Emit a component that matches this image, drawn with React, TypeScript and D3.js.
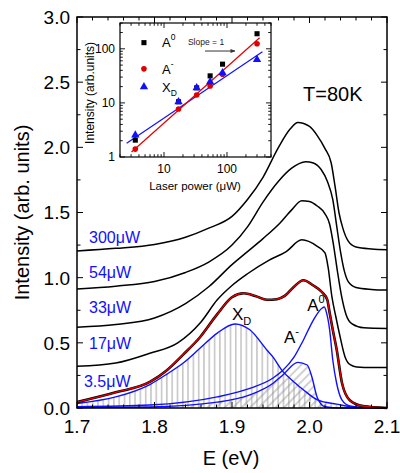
import React from "react";
import * as d3 from "d3";

// ---------- main spectra (E in eV, intensity in arb. units, offsets included) ----------
const E300 = [1.70,1.75,1.80,1.84,1.87,1.90,1.92,1.94,1.96,1.975,1.985,2.00,2.01,2.02,2.028,2.033,2.038,2.043,2.05,2.06,2.08,2.10];
const I300 = [1.205,1.225,1.255,1.31,1.38,1.47,1.6,1.77,2.0,2.14,2.19,2.16,2.09,1.99,1.88,1.7,1.5,1.38,1.28,1.235,1.22,1.215];
const E54 = [1.70,1.75,1.80,1.84,1.87,1.90,1.92,1.94,1.96,1.977,1.995,2.005,2.015,2.023,2.03,2.035,2.04,2.045,2.05,2.06,2.08,2.10];
const I54 = [0.913,0.935,0.97,1.04,1.12,1.25,1.39,1.58,1.74,1.84,1.89,1.88,1.83,1.74,1.6,1.4,1.2,1.05,0.97,0.925,0.91,0.905];
const E33 = [1.70,1.75,1.80,1.84,1.87,1.90,1.92,1.94,1.962,1.977,1.99,2.00,2.01,2.02,2.026,2.031,2.036,2.041,2.047,2.055,2.07,2.10];
const I33 = [0.62,0.64,0.69,0.8,0.93,1.1,1.2,1.3,1.42,1.52,1.59,1.585,1.55,1.49,1.41,1.25,1.05,0.87,0.72,0.645,0.615,0.61];
const E17 = [1.70,1.75,1.794,1.83,1.86,1.881,1.90,1.92,1.948,1.97,1.99,2.01,2.02,2.024,2.029,2.034,2.039,2.046,2.053,2.061,2.08,2.10];
const I17 = [0.32,0.345,0.42,0.5,0.66,0.83,0.94,1.03,1.135,1.2,1.29,1.24,1.19,1.08,0.85,0.7,0.56,0.39,0.33,0.315,0.31,0.31];
const E3 = [1.70,1.75,1.794,1.816,1.837,1.859,1.881,1.90,1.915,1.93,1.945,1.958,1.968,1.98,1.992,2.005,2.016,2.023,2.026,2.03,2.035,2.042,2.052,2.069,2.10];
const I3 = [0.045,0.12,0.2,0.29,0.41,0.545,0.72,0.85,0.88,0.86,0.83,0.835,0.86,0.93,0.98,0.94,0.89,0.83,0.73,0.6,0.45,0.19,0.06,0.015,0.0];

// ---------- fitted components of the 3.5 uW spectrum ----------
const EXD = [1.70,1.75,1.794,1.816,1.837,1.859,1.881,1.904,1.923,1.945,1.953,1.965,1.98,1.992,2.011,2.035,2.056,2.08,2.10];
const IXD = [0.035,0.085,0.18,0.26,0.345,0.46,0.575,0.645,0.6,0.445,0.39,0.285,0.2,0.14,0.06,0.03,0.008,0.002,0];
const EA0 = [1.70,1.794,1.881,1.923,1.953,1.965,1.98,1.992,2.005,2.016,2.019,2.022,2.026,2.03,2.035,2.042,2.052,2.07,2.10];
const IA0 = [0.01,0.023,0.085,0.15,0.23,0.285,0.39,0.52,0.675,0.765,0.775,0.73,0.6,0.37,0.19,0.06,0.015,0.003,0];
const EAm = [1.70,1.794,1.881,1.923,1.953,1.965,1.985,1.997,2.003,2.01,2.02,2.04,2.10];
const IAm = [0.003,0.008,0.045,0.1,0.19,0.25,0.35,0.33,0.24,0.08,0.01,0,0];

// ---------- inset: integrated intensities vs laser power ----------
const power = [3.5, 17, 33, 54, 85, 300];
const intA0 = [2.05, 10.5, 19, 31.6, 52, 190];
const intAm = [1.4, 7.7, 14, 20.5, 34, 124];
const intXD = [2.55, 10.5, 19, 24.5, 36, 63];
const fitXDx = [2.55, 366];
const fitXDy = [1.8, 88];
const fitAmx = [3.05, 330];
const fitAmy = [1.24, 160];

// ---------- labels ----------
const powerLabels = ["300\u03bcW", "54\u03bcW", "33\u03bcW", "17\u03bcW", "3.5\u03bcW"];
const powerLabelY = [1.266, 0.997, 0.729, 0.453, 0.161];
const xTicks = [1.7, 1.8, 1.9, 2.0, 2.1];
const yTicks = [0.0, 0.5, 1.0, 1.5, 2.0, 2.5, 3.0];
const legendY = [130, 42.6, 19.8];

const FONT = "Arial, 'Liberation Sans', Helvetica, sans-serif";

type P = [number, number];

export default function App() {
  const x = d3.scaleLinear().domain([1.7, 2.1]).range([77, 387]);
  const y = d3.scaleLinear().domain([0, 3]).range([408, 17]);
  const line = d3.line<P>().x(d => x(d[0])).y(d => y(d[1])).curve(d3.curveMonotoneX);
  const area = d3.area<P>().x(d => x(d[0])).y0(y(0)).y1(d => y(d[1])).curve(d3.curveMonotoneX);

  const ix = d3.scaleLog().domain([2, 500]).range([120, 271]);
  const iy = d3.scaleLog().domain([1, 300]).range([157, 23]);

  const spectra: P[][] = [
    d3.zip(E300, I300) as P[],
    d3.zip(E54, I54) as P[],
    d3.zip(E33, I33) as P[],
    d3.zip(E17, I17) as P[],
  ];
  const s3 = d3.zip(E3, I3) as P[];
  const xd = d3.zip(EXD, IXD) as P[];
  const a0 = d3.zip(EA0, IA0) as P[];
  const am = d3.zip(EAm, IAm) as P[];

  const xMinor = d3.range(1.7, 2.1001, 0.02);
  const yMinor = d3.range(0, 3.0001, 0.25);

  const ixMinor = [2,3,4,5,6,7,8,9,20,30,40,50,60,70,80,90,200,300,400,500];
  const ixMajor = [10, 100];
  const iyMinor = [2,3,4,5,6,7,8,9,20,30,40,50,60,70,80,90,200,300];
  const iyMajor = [1, 10, 100];

  const tri = d3.symbol().type(d3.symbolTriangle).size(30)();
  const sq = d3.symbol().type(d3.symbolSquare).size(26)();

  const lgX = ix(4.8);
  const lgT = ix(9.3);

  return (
    <svg width={400} height={473} style={{ position: "absolute", left: 0, top: 0, background: "#fff" }} fontFamily={FONT}>
      <defs>
        <pattern id="vhatch" patternUnits="userSpaceOnUse" width={5.3} height={10}>
          <line x1={2.6} y1={0} x2={2.6} y2={10} stroke="#9a9a9a" strokeWidth={0.9} />
        </pattern>
        <pattern id="dhatch" patternUnits="userSpaceOnUse" width={6} height={6} patternTransform="rotate(45)">
          <line x1={3} y1={0} x2={3} y2={6} stroke="#8a8a8a" strokeWidth={0.8} />
        </pattern>
        <marker id="arr" viewBox="0 0 10 10" refX={9} refY={5} markerWidth={5} markerHeight={5} orient="auto">
          <path d="M0,1 L10,5 L0,9 z" fill="#333" />
        </marker>
      </defs>
      <rect x={0} y={0} width={400} height={473} fill="#fff" />

      {/* hatched component areas */}
      <path d={area(xd) || ""} fill="url(#vhatch)" />
      <path d={area(am) || ""} fill="url(#dhatch)" />

      {/* component curves */}
      {[xd, a0, am].map((c, i) => (
        <path key={i} d={line(c) || ""} fill="none" stroke="#1010ff" strokeWidth={1.4} />
      ))}

      {/* spectra */}
      {spectra.map((s, i) => (
        <path key={i} d={line(s) || ""} fill="none" stroke="#000" strokeWidth={1.5} />
      ))}
      <path d={line(s3) || ""} fill="none" stroke="#000" strokeWidth={2.6} />
      <path d={line(s3) || ""} fill="none" stroke="#e00000" strokeWidth={1.4} />

      {/* frame */}
      <rect x={77} y={17} width={310} height={391} fill="none" stroke="#000" strokeWidth={1.5} />

      {/* ticks */}
      {xMinor.map((v, i) => {
        const major = Math.abs(Math.round(v * 10) - v * 10) < 1e-6;
        const len = major ? 6 : 3.5;
        return (
          <g key={"xt" + i} stroke="#000" strokeWidth={1}>
            <line x1={x(v)} x2={x(v)} y1={408} y2={408 - len} />
            <line x1={x(v)} x2={x(v)} y1={17} y2={17 + len} />
          </g>
        );
      })}
      {yMinor.map((v, i) => {
        const major = i % 2 === 0;
        const len = major ? 6 : 3.5;
        return (
          <g key={"yt" + i} stroke="#000" strokeWidth={1}>
            <line x1={77} x2={77 + len} y1={y(v)} y2={y(v)} />
            <line x1={387} x2={387 - len} y1={y(v)} y2={y(v)} />
          </g>
        );
      })}
      {xTicks.map((v, i) => (
        <text key={"xl" + i} x={x(v)} y={433} textAnchor="middle" fontSize={19}>{v.toFixed(1)}</text>
      ))}
      {yTicks.map((v, i) => (
        <text key={"yl" + i} x={70} y={y(v)} dy="0.36em" textAnchor="end" fontSize={19}>{v.toFixed(1)}</text>
      ))}
      <text x={231} y={465} textAnchor="middle" fontSize={20}>E (eV)</text>
      <text transform={`translate(29,${y(1.5)}) rotate(-90)`} textAnchor="middle" fontSize={20}>Intensity (arb. units)</text>

      {/* annotations */}
      <text x={x(1.9916)} y={y(2.356)} fontSize={20}>T=80K</text>
      {powerLabels.map((t, i) => (
        <text key={"pl" + i} x={x(i === 4 ? 1.709 : 1.7155)} y={y(powerLabelY[i])} fontSize={16} fill="#1010ff">{t}</text>
      ))}
      <text x={x(1.9)} y={y(0.675)} fontSize={17}>X<tspan fontSize={11} dy={5}>D</tspan></text>
      <text x={x(1.967)} y={y(0.5)} fontSize={17}>A<tspan fontSize={11} dy={-8}>-</tspan></text>
      <text x={x(1.997)} y={y(0.745)} fontSize={17}>A<tspan fontSize={11} dy={-8}>0</tspan></text>

      {/* ---------- inset ---------- */}
      <rect x={120} y={23} width={151} height={134} fill="#fff" stroke="#000" strokeWidth={1.2} />
      {ixMinor.concat(ixMajor).map((v, i) => {
        const len = ixMajor.includes(v) ? 5 : 2.8;
        return (
          <g key={"ixt" + i} stroke="#000" strokeWidth={0.9}>
            <line x1={ix(v)} x2={ix(v)} y1={157} y2={157 - len} />
            <line x1={ix(v)} x2={ix(v)} y1={23} y2={23 + len} />
          </g>
        );
      })}
      {iyMinor.concat(iyMajor).map((v, i) => {
        const len = iyMajor.includes(v) ? 5 : 2.8;
        return (
          <g key={"iyt" + i} stroke="#000" strokeWidth={0.9}>
            <line x1={120} x2={120 + len} y1={iy(v)} y2={iy(v)} />
            <line x1={271} x2={271 - len} y1={iy(v)} y2={iy(v)} />
          </g>
        );
      })}
      {ixMajor.map((v, i) => (
        <text key={"ixl" + i} x={ix(v)} y={173} textAnchor="middle" fontSize={12}>{v}</text>
      ))}
      {iyMajor.map((v, i) => (
        <text key={"iyl" + i} x={115} y={iy(v)} dy="0.36em" textAnchor="end" fontSize={12}>{v}</text>
      ))}
      <text x={195} y={190} textAnchor="middle" fontSize={11.5}>Laser power (<tspan>{"\u03bc"}</tspan>W)</text>
      <text transform={`translate(94,${iy(10) - 10}) rotate(-90)`} textAnchor="middle" fontSize={12}>Intensity (arb.units)</text>

      <line x1={ix(fitXDx[0])} y1={iy(fitXDy[0])} x2={ix(fitXDx[1])} y2={iy(fitXDy[1])} stroke="#1010ff" strokeWidth={1.2} />
      <line x1={ix(fitAmx[0])} y1={iy(fitAmy[0])} x2={ix(fitAmx[1])} y2={iy(fitAmy[1])} stroke="#e00000" strokeWidth={1.2} />

      {power.map((p, i) => (
        <path key={"sa" + i} d={sq || ""} transform={`translate(${ix(p)},${iy(intA0[i])})`} fill="#000" />
      ))}
      {power.map((p, i) => (
        <circle key={"ca" + i} cx={ix(p)} cy={iy(intAm[i])} r={2.8} fill="#e00000" />
      ))}
      {power.map((p, i) => (
        <path key={"ta" + i} d={tri || ""} transform={`translate(${ix(p)},${iy(intXD[i])})`} fill="#1010ff" />
      ))}

      {/* inset legend */}
      <path d={sq || ""} transform={`translate(${lgX},${iy(legendY[0])})`} fill="#000" />
      <text x={lgT} y={iy(legendY[0])} dy="0.36em" fontSize={13}>A<tspan fontSize={8.5} dy={-7}>0</tspan></text>
      <circle cx={lgX} cy={iy(legendY[1])} r={2.8} fill="#e00000" />
      <text x={lgT} y={iy(legendY[1])} dy="0.36em" fontSize={13}>A<tspan fontSize={8.5} dy={-7}>-</tspan></text>
      <path d={tri || ""} transform={`translate(${lgX},${iy(legendY[2])})`} fill="#1010ff" />
      <text x={lgT} y={iy(legendY[2])} dy="0.36em" fontSize={13}>X<tspan fontSize={8.5} dy={4}>D</tspan></text>

      <text x={ix(24)} y={iy(117)} fontSize={8.5} fill="#222">Slope = 1</text>
      <line x1={ix(44.8)} y1={iy(91)} x2={ix(134)} y2={iy(91)} stroke="#333" strokeWidth={1} markerEnd="url(#arr)" />
    </svg>
  );
}
